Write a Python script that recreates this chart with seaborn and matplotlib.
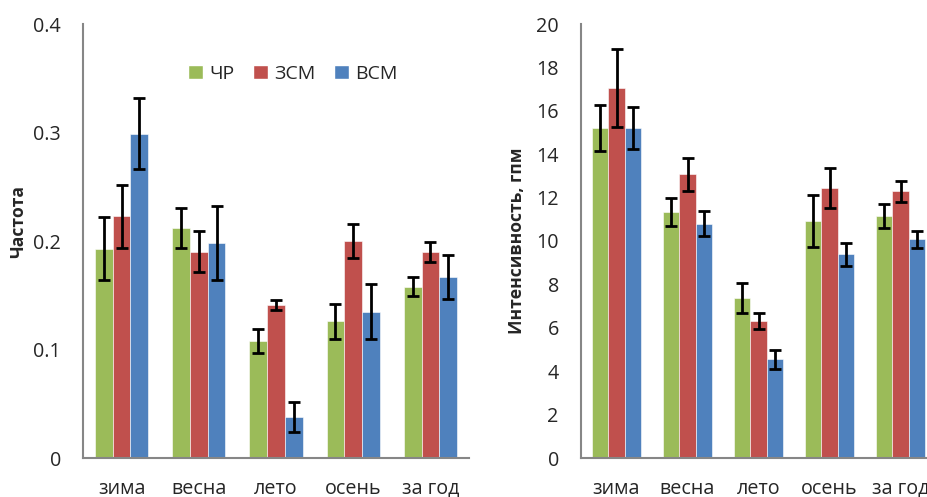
import numpy as np
import pandas as pd
import seaborn as sns
import matplotlib.pyplot as plt
from matplotlib.patches import Patch

seasons = ["зима", "весна", "лето", "осень", "за год"]
groups = ["ЧР", "ЗСМ", "ВСМ"]
colors = ["#9BBB59", "#C0504D", "#4F81BD"]

# frequency (left panel)
freq_chr = [0.193, 0.212, 0.108, 0.126, 0.158]
freq_zsm = [0.223, 0.190, 0.141, 0.200, 0.190]
freq_vsm = [0.299, 0.198, 0.038, 0.135, 0.167]
freq_err_chr = [0.029, 0.018, 0.011, 0.016, 0.009]
freq_err_zsm = [0.029, 0.019, 0.005, 0.016, 0.009]
freq_err_vsm = [0.033, 0.034, 0.014, 0.025, 0.020]

# intensity (right panel)
int_chr = [15.2, 11.35, 7.37, 10.93, 11.15]
int_zsm = [17.05, 13.08, 6.3, 12.43, 12.3]
int_vsm = [15.2, 10.8, 4.54, 9.38, 10.07]
int_err_chr = [1.07, 0.65, 0.69, 1.2, 0.54]
int_err_zsm = [1.78, 0.76, 0.36, 0.92, 0.48]
int_err_vsm = [0.98, 0.58, 0.44, 0.53, 0.38]

sns.set_style("white")
plt.rcParams['font.family'] = ['Open Sans', 'DejaVu Sans']
axis_gray = "#868686"


def draw_panel(ax, vals, errs, ymax, ystep, yfmt, ylabel, label_xy):
    df = pd.DataFrame({
        "season": seasons * 3,
        "group": [g for g in groups for _ in seasons],
        "value": vals[0] + vals[1] + vals[2],
    })
    sns.barplot(data=df, x="season", y="value", hue="group", order=seasons,
                hue_order=groups, palette=colors, saturation=1, width=0.69,
                gap=0, edgecolor="white", linewidth=0.4, legend=False, ax=ax)
    for cont, e in zip(ax.containers, errs):
        xs = [p.get_x() + p.get_width() / 2 for p in cont.patches]
        hs = [p.get_height() for p in cont.patches]
        ax.errorbar(xs, hs, yerr=e, fmt="none", ecolor="black",
                    elinewidth=2, capsize=4.5, capthick=2)

    ticks = np.arange(0, ymax + ystep / 2, ystep)
    ax.set_xlim(-0.5, 4.5)
    ax.set_ylim(0, ymax)
    ax.set_yticks(ticks)
    ax.set_yticklabels([yfmt(v) for v in ticks])
    ax.set_xticks(np.arange(-0.5, 5, 1))
    ax.set_xticklabels([])
    ax.set_xticks(range(5), minor=True)
    ax.set_xticklabels(seasons, minor=True)
    ax.tick_params(axis="x", which="major", length=7, width=1.5,
                   color=axis_gray, direction="out")
    ax.tick_params(axis="x", which="minor", length=0, pad=15, labelsize=14.2)
    ax.tick_params(axis="y", length=7, width=1.5, color=axis_gray,
                   direction="out", pad=9, labelsize=14.2)

    sns.despine(ax=ax)
    for s in ["left", "bottom"]:
        ax.spines[s].set_color(axis_gray)
        ax.spines[s].set_linewidth(1.5)
    ax.set_xlabel("")
    ax.set_ylabel(ylabel, fontsize=12.6, fontweight="bold")
    ax.yaxis.set_label_coords(*label_xy)


fig = plt.figure(figsize=(9.28, 4.97), dpi=100)
ax1 = fig.add_axes([83 / 928, 39 / 497, 386 / 928, 434 / 497])
ax2 = fig.add_axes([581 / 928, 39 / 497, 355 / 928, 434 / 497])

draw_panel(ax1, [freq_chr, freq_zsm, freq_vsm],
           [freq_err_chr, freq_err_zsm, freq_err_vsm],
           0.4, 0.1, lambda v: "0" if v == 0 else f"{v:.1f}",
           "Частота", (-0.145, 0.546))
draw_panel(ax2, [int_chr, int_zsm, int_vsm],
           [int_err_chr, int_err_zsm, int_err_vsm],
           20, 2, lambda v: f"{v:.0f}",
           "Интенсивность, гпм", (-0.155, 0.5))

handles = [Patch(facecolor=c, edgecolor="white") for c in colors]
ax1.legend(handles, groups, loc="center", bbox_to_anchor=(0.544, 0.885),
           ncol=3, frameon=False, fontsize=14, handlelength=0.75,
           handleheight=0.75, handletextpad=0.35, columnspacing=0.95)

fig.savefig("out.png", dpi=100)
